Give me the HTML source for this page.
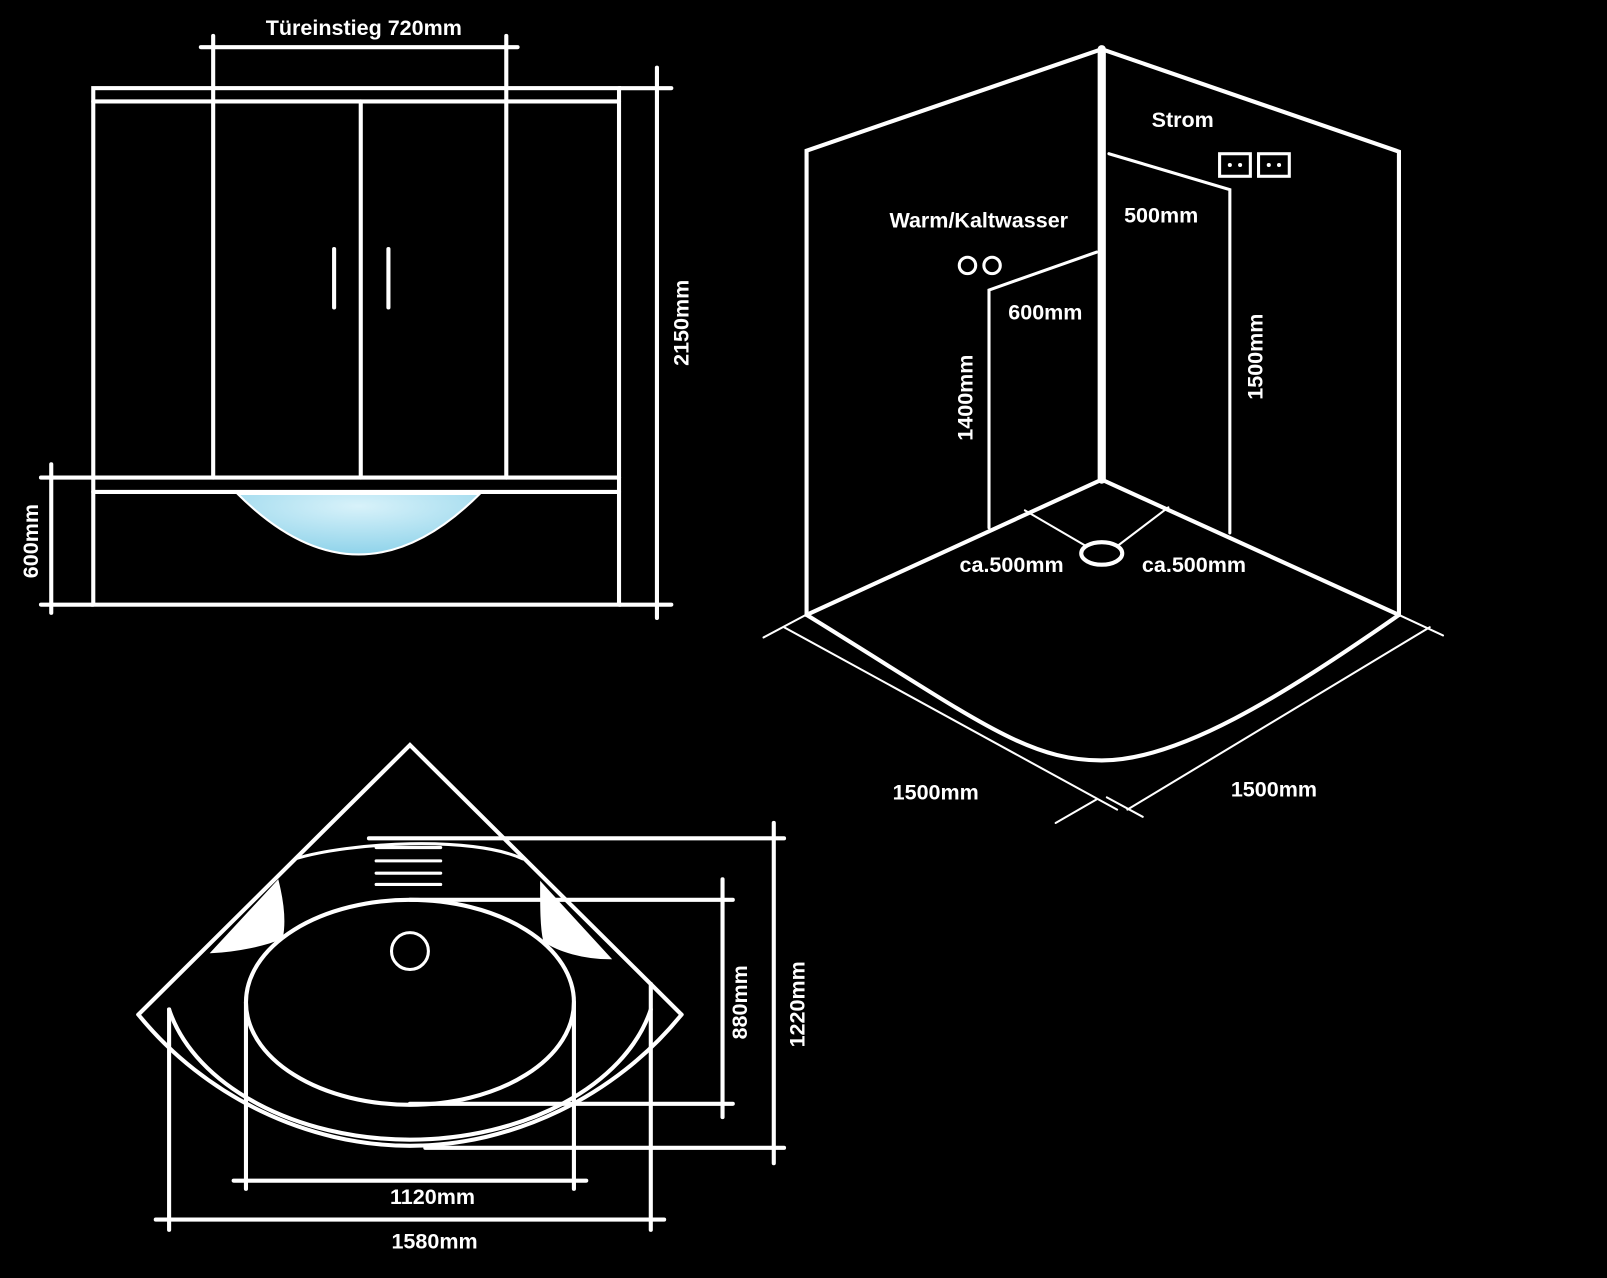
<!DOCTYPE html>
<html><head><meta charset="utf-8"><style>
html,body{margin:0;padding:0;background:#000;}
svg{display:block;}
text{font-family:"Liberation Sans",sans-serif;font-weight:bold;font-size:21px;fill:#fff;}
</style></head><body>
<svg width="1607" height="1278" viewBox="0 0 1568 1247" preserveAspectRatio="none" xmlns="http://www.w3.org/2000/svg">
<defs><radialGradient id="g" cx="0.5" cy="0.2" r="0.8"><stop offset="0" stop-color="#d8f2fa"/><stop offset="1" stop-color="#8fd3ea"/></radialGradient></defs>
<rect width="1568" height="1247" fill="#000"/>
<g stroke="#fff" stroke-width="4" fill="none" stroke-linecap="round">
<path d="M232 482 Q350 600 468 482 Z" fill="url(#g)" stroke="#fff" stroke-width="2"/>
<rect x="91" y="86" width="513" height="504"/>
<line x1="91" y1="99" x2="604" y2="99"/>
<line x1="91" y1="466" x2="604" y2="466"/>
<line x1="91" y1="480" x2="604" y2="480"/>
<line x1="208" y1="99" x2="208" y2="466"/>
<line x1="352" y1="99" x2="352" y2="466"/>
<line x1="494" y1="99" x2="494" y2="466"/>
<line x1="326" y1="243" x2="326" y2="300"/>
<line x1="379" y1="243" x2="379" y2="300"/>
<line x1="196" y1="46" x2="505" y2="46"/>
<line x1="208" y1="35" x2="208" y2="99"/>
<line x1="494" y1="35" x2="494" y2="99"/>
<line x1="641" y1="66" x2="641" y2="603"/>
<line x1="604" y1="86" x2="655" y2="86"/>
<line x1="604" y1="590" x2="655" y2="590"/>
<line x1="50" y1="453" x2="50" y2="598"/>
<line x1="40" y1="466" x2="91" y2="466"/>
<line x1="40" y1="590" x2="91" y2="590"/>
<line x1="1075" y1="48" x2="1075" y2="468" stroke-width="8"/>
<polyline points="787,600 787,147 1075,48 1365,148 1365,600"/>
<line x1="1075" y1="468" x2="787" y2="600"/>
<line x1="1075" y1="468" x2="1365" y2="600"/>
<path d="M787 600 C950 700 1000 742 1075 742 C1150 742 1250 680 1365 600"/>
<polyline points="1082,150 1200,185 1200,520" stroke-width="3"/>
<polyline points="1070,246 965,283 965,515" stroke-width="3"/>
<ellipse cx="1075" cy="540" rx="20" ry="11"/>
<line x1="1000" y1="498" x2="1060" y2="533" stroke-width="2"/>
<line x1="1140" y1="495" x2="1090" y2="533" stroke-width="2"/>
<circle cx="944" cy="259" r="8" stroke-width="3"/>
<circle cx="968" cy="259" r="8" stroke-width="3"/>
<rect x="1190" y="150" width="30" height="22" stroke-width="3"/>
<rect x="1228" y="150" width="30" height="22" stroke-width="3"/>
<line x1="765" y1="612" x2="1090" y2="790" stroke-width="2"/>
<line x1="745" y1="622" x2="790" y2="598" stroke-width="2"/>
<line x1="1030" y1="803" x2="1070" y2="780" stroke-width="2"/>
<line x1="1100" y1="790" x2="1395" y2="612" stroke-width="2"/>
<line x1="1115" y1="797" x2="1080" y2="778" stroke-width="2"/>
<line x1="1365" y1="600" x2="1408" y2="620" stroke-width="2"/>
<polyline points="135,990 400,727 665,990"/>
<path d="M135 990 C200 1070 300 1118 400 1118 C500 1118 600 1070 665 990"/>
<path d="M165 985 C190 1060 290 1112 400 1112 C510 1112 610 1060 635 985"/>
<path d="M288 838 C340 822 460 815 510 838" stroke-width="3"/>
<path d="M207 929 L271 860 C276 880 278 900 275 915 C260 922 230 928 207 929 Z" fill="#fff" stroke-width="2"/>
<path d="M595 935 L528 862 C528 885 528 905 531 918 C545 928 570 935 595 935 Z" fill="#fff" stroke-width="2"/>
<ellipse cx="400" cy="978" rx="160" ry="100"/>
<circle cx="400" cy="928" r="18" stroke-width="3"/>
<line x1="367" y1="827" x2="430" y2="827" stroke-width="3"/>
<line x1="367" y1="840" x2="430" y2="840" stroke-width="3"/>
<line x1="367" y1="852" x2="430" y2="852" stroke-width="3"/>
<line x1="367" y1="863" x2="430" y2="863" stroke-width="3"/>
<line x1="165" y1="985" x2="165" y2="1200"/>
<line x1="635" y1="960" x2="635" y2="1200"/>
<line x1="240" y1="978" x2="240" y2="1160"/>
<line x1="560" y1="978" x2="560" y2="1160"/>
<line x1="152" y1="1190" x2="648" y2="1190"/>
<line x1="228" y1="1152" x2="572" y2="1152"/>
<line x1="755" y1="803" x2="755" y2="1135"/>
<line x1="360" y1="818" x2="765" y2="818"/>
<line x1="415" y1="1120" x2="765" y2="1120"/>
<line x1="705" y1="858" x2="705" y2="1090"/>
<line x1="400" y1="878" x2="715" y2="878"/>
<line x1="400" y1="1077" x2="715" y2="1077"/>
</g>
<g fill="#fff">
<circle cx="1200" cy="161" r="2"/><circle cx="1210" cy="161" r="2"/>
<circle cx="1238" cy="161" r="2"/><circle cx="1248" cy="161" r="2"/>
</g>
<text x="355" y="34" text-anchor="middle">Türeinstieg 720mm</text>
<text transform="translate(672,315) rotate(-90)" text-anchor="middle">2150mm</text>
<text transform="translate(37,528) rotate(-90)" text-anchor="middle">600mm</text>
<text x="1154" y="124" text-anchor="middle">Strom</text>
<text x="1133" y="217" text-anchor="middle">500mm</text>
<text x="955" y="222" text-anchor="middle">Warm/Kaltwasser</text>
<text x="1020" y="312" text-anchor="middle">600mm</text>
<text transform="translate(949,388) rotate(-90)" text-anchor="middle">1400mm</text>
<text transform="translate(1232,348) rotate(-90)" text-anchor="middle">1500mm</text>
<text x="987" y="558" text-anchor="middle">ca.500mm</text>
<text x="1165" y="558" text-anchor="middle">ca.500mm</text>
<text x="913" y="780" text-anchor="middle">1500mm</text>
<text x="1243" y="777" text-anchor="middle">1500mm</text>
<text x="422" y="1175" text-anchor="middle">1120mm</text>
<text x="424" y="1218" text-anchor="middle">1580mm</text>
<text transform="translate(729,978) rotate(-90)" text-anchor="middle">880mm</text>
<text transform="translate(785,980) rotate(-90)" text-anchor="middle">1220mm</text>
</svg>
</body></html>
